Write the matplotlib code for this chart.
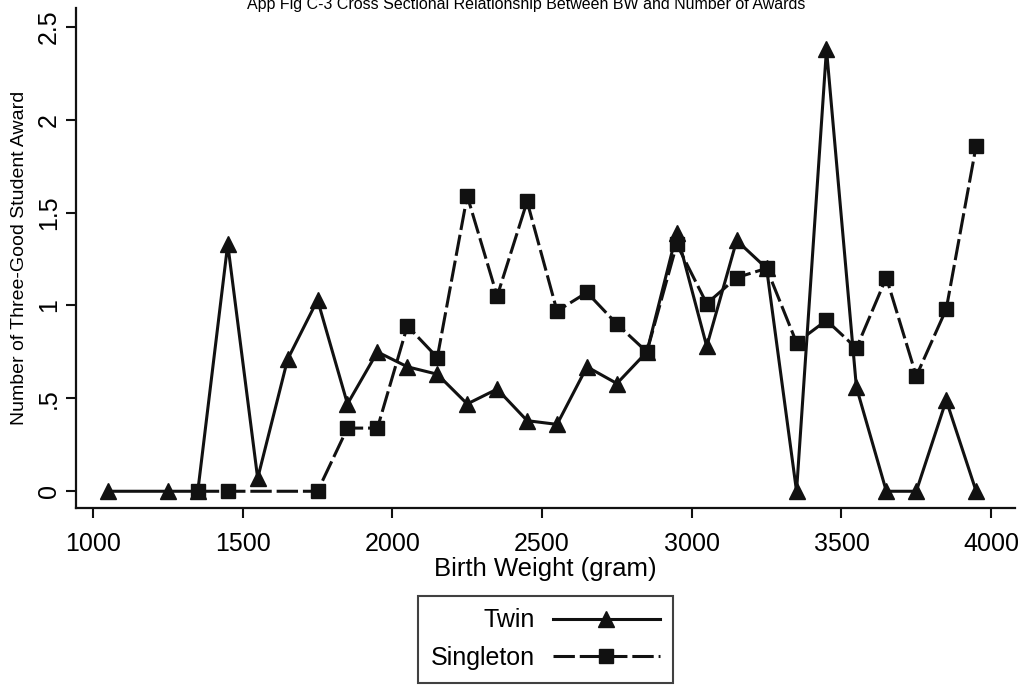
import matplotlib.pyplot as plt
import numpy as np

plt.rcParams['font.family'] = ['Liberation Sans', 'DejaVu Sans']

# Birth weight bins (gram) and mean number of awards
twin_bw = [1050, 1250, 1350, 1450, 1550, 1650, 1750, 1850, 1950, 2050,
           2150, 2250, 2350, 2450, 2550, 2650, 2750, 2850, 2950, 3050,
           3150, 3250, 3350, 3450, 3550, 3650, 3750, 3850, 3950]
twin_awards = [0, 0, 0, 1.33, 0.07, 0.71, 1.03, 0.47, 0.75, 0.67,
               0.63, 0.47, 0.55, 0.38, 0.36, 0.67, 0.58, 0.75, 1.39, 0.78,
               1.35, 1.20, 0, 2.38, 0.56, 0, 0, 0.49, 0]

single_bw = [1350, 1450, 1750, 1850, 1950, 2050, 2150, 2250, 2350, 2450,
             2550, 2650, 2750, 2850, 2950, 3050, 3150, 3250, 3350, 3450,
             3550, 3650, 3750, 3850, 3950]
single_awards = [0, 0, 0, 0.34, 0.34, 0.89, 0.72, 1.59, 1.05, 1.56,
                 0.97, 1.07, 0.90, 0.75, 1.33, 1.01, 1.15, 1.20, 0.80, 0.92,
                 0.77, 1.15, 0.62, 0.98, 1.86]

xticks = [1000, 1500, 2000, 2500, 3000, 3500, 4000]
yticks = [0, 0.5, 1, 1.5, 2, 2.5]
ytick_labels = ["0", ".5", "1", "1.5", "2", "2.5"]

fig = plt.figure(figsize=(10.32, 6.86), dpi=100)
ax = fig.add_axes([0.0736, 0.2595, 0.91, 0.7285])

ax.plot(twin_bw, twin_awards, color="#111111", lw=2.2, marker="^",
        markersize=11, label="Twin")
ax.plot(single_bw, single_awards, color="#111111", lw=2.2, marker="s",
        markersize=9.5, dashes=(7, 1.6), label="Singleton")

ax.set_xlim(943, 4080)
ax.set_ylim(-0.09, 2.6)
ax.set_xticks(xticks)
ax.set_yticks(yticks)
ax.set_yticklabels(ytick_labels, rotation=90, va="center")
ax.tick_params(axis="both", direction="out", length=7, width=1.5,
               labelsize=18, color="#111111")
ax.tick_params(axis="x", pad=10)
ax.tick_params(axis="y", pad=4)

for side in ["top", "right"]:
    ax.spines[side].set_visible(False)
for side in ["left", "bottom"]:
    ax.spines[side].set_linewidth(1.6)
    ax.spines[side].set_color("#111111")

ax.set_xlabel("Birth Weight (gram)", fontsize=18.5, labelpad=1)
ax.set_ylabel("Number of Three-Good Student Award", fontsize=14, labelpad=6)

leg = ax.legend(loc="upper center", bbox_to_anchor=(0.5, -0.176),
                markerfirst=False, fontsize=18, frameon=True, fancybox=False,
                edgecolor="#111111", handlelength=4.3, handletextpad=0.7,
                borderpad=0.5, labelspacing=0.55, borderaxespad=0)
leg.get_frame().set_linewidth(1.5)
for t in leg.get_texts():
    t.set_ha("right")

fig.text(0.51, 1 - 9 / 686,
         "App Fig C-3 Cross Sectional Relationship Between BW and Number of Awards",
         ha="center", va="baseline", fontsize=11.5)

fig.savefig("out.png", dpi=100, facecolor="white")
